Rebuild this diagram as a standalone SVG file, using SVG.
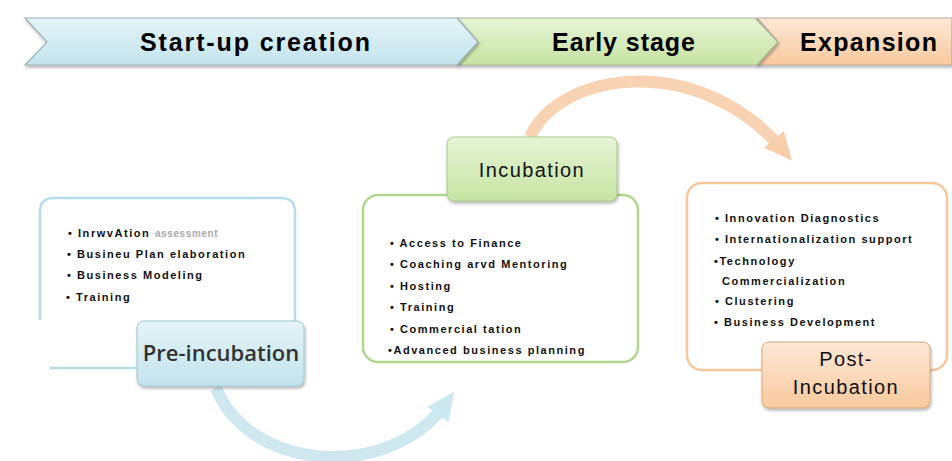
<svg xmlns="http://www.w3.org/2000/svg" width="952" height="461" viewBox="0 0 952 461">
<defs>
<linearGradient id="gBlue" x1="0" y1="0" x2="0" y2="1"><stop offset="0" stop-color="#e4f4f8"/><stop offset="1" stop-color="#c3e3ec"/></linearGradient>
<linearGradient id="gGreen" x1="0" y1="0" x2="0" y2="1"><stop offset="0" stop-color="#e6f4d6"/><stop offset="1" stop-color="#c7e3a2"/></linearGradient>
<linearGradient id="gOrange" x1="0" y1="0" x2="0" y2="1"><stop offset="0" stop-color="#fde8d6"/><stop offset="1" stop-color="#f8c99e"/></linearGradient>
<filter id="sh" x="-10%" y="-10%" width="130%" height="140%"><feDropShadow dx="1" dy="2" stdDeviation="1.5" flood-color="#000" flood-opacity="0.3"/></filter>
<marker id="ahO" markerUnits="userSpaceOnUse" markerWidth="34" markerHeight="34" refX="17" refY="17" orient="auto"><path d="M3,4 L31,17 L3,30 Z" fill="#f8ceaa"/></marker>
<marker id="ahB" markerUnits="userSpaceOnUse" markerWidth="34" markerHeight="34" refX="17" refY="17" orient="auto"><path d="M3,4 L31,17 L3,30 Z" fill="#cbe7ef"/></marker>
<style>
.banner{font-family:"Liberation Sans",Arial,sans-serif;font-weight:bold;font-size:25px;fill:#000}
.bul{font-family:"Liberation Sans",Arial,sans-serif;font-weight:bold;font-size:11px;letter-spacing:1.55px;fill:#111}
.lbl{font-family:"Liberation Sans",Arial,sans-serif;font-size:20px;letter-spacing:1.4px;fill:#111;text-anchor:middle}
.box{fill:#fff;stroke-width:2.5}
</style>
</defs>
<rect width="952" height="461" fill="#fff"/>

<g id="banner">
<path d="M757,18 L952,18 L952,65 L757,65 L778,42 Z" fill="url(#gOrange)" stroke="#b9a99a" stroke-width="1.2" filter="url(#sh)"/>
<path d="M457,18 L755,18 L778,42 L757,65 L457,65 L478,42 Z" fill="url(#gGreen)" stroke="#a9b59c" stroke-width="1.2" filter="url(#sh)"/>
<path d="M25,18 L457,18 L478,42 L457,65 L25,65 L47,42 Z" fill="url(#gBlue)" stroke="#9fb2b6" stroke-width="1.2" filter="url(#sh)"/>
<text class="banner" x="140" y="51" textLength="230" lengthAdjust="spacing">Start-up creation</text>
<text class="banner" x="552" y="51" textLength="143" lengthAdjust="spacing">Early stage</text>
<text class="banner" x="800" y="51" textLength="137" lengthAdjust="spacing">Expansion</text>
</g>

<g id="connectors" fill="none" stroke-width="12" stroke-linecap="butt">
<path d="M530,137 C560,70 700,52 783,150" stroke="#f8d3b3" marker-end="url(#ahO)"/>
<path d="M216,388 C250,472 390,482 446,403" stroke="#cfe8ef" marker-end="url(#ahB)"/>
</g>

<g id="pre-incubation">
<path class="box" d="M40,320 L40,212 Q40,198 54,198 L281,198 Q295,198 295,212 L295,354 Q295,368 281,368 L50,368" stroke="#b5dde5"/>
<text class="bul" x="68" y="237">• InrwvAtion <tspan fill="#aaa" font-size="10" letter-spacing="0.6">assessment</tspan></text>
<text class="bul" x="67" y="258">• Busineu Plan elaboration</text>
<text class="bul" x="67" y="279">• Business Modeling</text>
<text class="bul" x="66" y="301">• Training</text>
<rect x="137" y="321" width="167" height="65" rx="7" fill="url(#gBlue)" stroke="#9fc6cf" stroke-width="1" filter="url(#sh)"/>
<text x="221" y="361" font-family="'Open Sans','Liberation Sans',sans-serif" font-weight="600" font-size="22" fill="#333" text-anchor="middle">Pre-incubation</text>
</g>

<g id="incubation">
<rect class="box" x="363" y="195" width="275" height="167" rx="15" stroke="#b3d58c"/>
<text class="bul" x="390" y="247">• Access to Finance</text>
<text class="bul" x="390" y="268">• Coaching arvd Mentoring</text>
<text class="bul" x="390" y="290">• Hosting</text>
<text class="bul" x="390" y="311">• Training</text>
<text class="bul" x="390" y="333">• Commercial tation</text>
<text class="bul" x="388" y="354">•Advanced business planning</text>
<rect x="447" y="137" width="170" height="64" rx="7" fill="url(#gGreen)" stroke="#a9c98a" stroke-width="1" filter="url(#sh)"/>
<text class="lbl" x="532" y="177">Incubation</text>
</g>

<g id="post-incubation">
<rect class="box" x="687" y="183" width="260" height="187" rx="15" stroke="#f6c79c"/>
<text class="bul" x="715" y="222">• Innovation Diagnostics</text>
<text class="bul" x="715" y="243">• Internationalization support</text>
<text class="bul" x="714" y="265">•Technology</text>
<text class="bul" x="722" y="285">Commercialization</text>
<text class="bul" x="715" y="305">• Clustering</text>
<text class="bul" x="714" y="326">• Business Development</text>
<rect x="762" y="342" width="168" height="66" rx="7" fill="url(#gOrange)" stroke="#d9a87c" stroke-width="1" filter="url(#sh)"/>
<text class="lbl" x="846" y="366">Post-</text>
<text class="lbl" x="846" y="394">Incubation</text>
</g>
</svg>
